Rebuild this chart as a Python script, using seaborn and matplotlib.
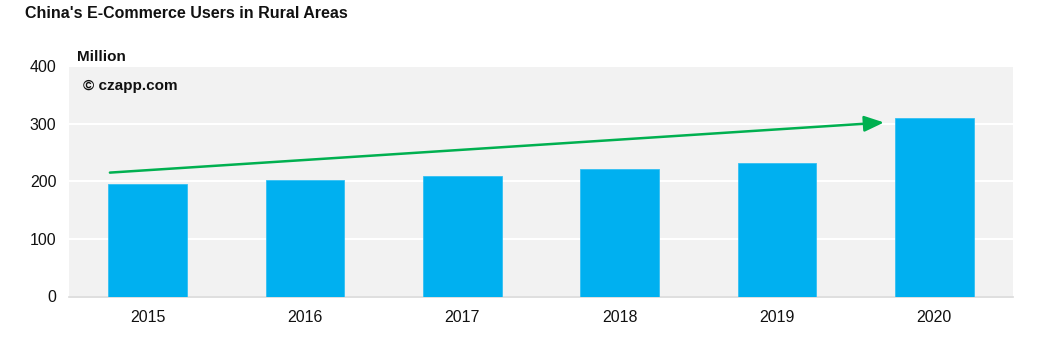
import matplotlib
matplotlib.use("Agg")
import matplotlib.pyplot as plt
import seaborn as sns
import pandas as pd

years = ["2015", "2016", "2017", "2018", "2019", "2020"]
users = [195, 202, 209, 221, 231, 309]
y_ticks = [0, 100, 200, 300, 400]
arrow_start = (-0.24, 215)
arrow_end = (4.68, 302)

sns.set_theme(style="white")
plt.rcParams['font.family'] = ['Liberation Sans', 'DejaVu Sans']

df = pd.DataFrame({"year": years, "users": users})

fig = plt.figure(figsize=(10.55, 3.41), dpi=100)
ax = fig.add_axes([69/1055, 1 - 296.5/341, (1013-69)/1055, (296.5-66)/341])
ax.set_facecolor("#f2f2f2")

sns.barplot(data=df, x="year", y="users", color="#00b0f0", width=0.5,
            saturation=1, ax=ax, zorder=3, edgecolor="#33c0f3", linewidth=0.6)

ax.set_xlim(-0.5, 5.5)
ax.set_ylim(0, 400)
ax.set_yticks(y_ticks)
ax.yaxis.grid(True, color="white", linewidth=1.5, zorder=1)
ax.set_axisbelow(True)
for s in ["top", "right", "left"]:
    ax.spines[s].set_visible(False)
ax.spines["bottom"].set_color("#d9d9d9")
ax.spines["bottom"].set_linewidth(1.2)
ax.tick_params(axis="both", length=0, labelsize=11.5, colors="#111111")
ax.tick_params(axis="y", pad=9)
ax.tick_params(axis="x", pad=10)
ax.set_xlabel("")
ax.set_ylabel("")

ax.annotate("", xy=arrow_end, xytext=arrow_start,
            arrowprops=dict(arrowstyle="-|>,head_length=1.0,head_width=0.4",
                            color="#00b050", lw=1.8, shrinkA=0, shrinkB=0),
            zorder=5)

fig.text(25/1055, 1 - 13/341, "China's E-Commerce Users in Rural Areas",
         fontsize=11.5, fontweight="bold", va="center", ha="left", color="#111111")
fig.text(77/1055, 1 - 57/341, "Million", fontsize=11, fontweight="bold",
         va="center", ha="left", color="#111111")
ax.text(0.015, 0.915, "© czapp.com", transform=ax.transAxes, fontsize=11,
        fontweight="bold", va="center", ha="left", color="#111111", zorder=6)

fig.savefig("out.png", dpi=100)
